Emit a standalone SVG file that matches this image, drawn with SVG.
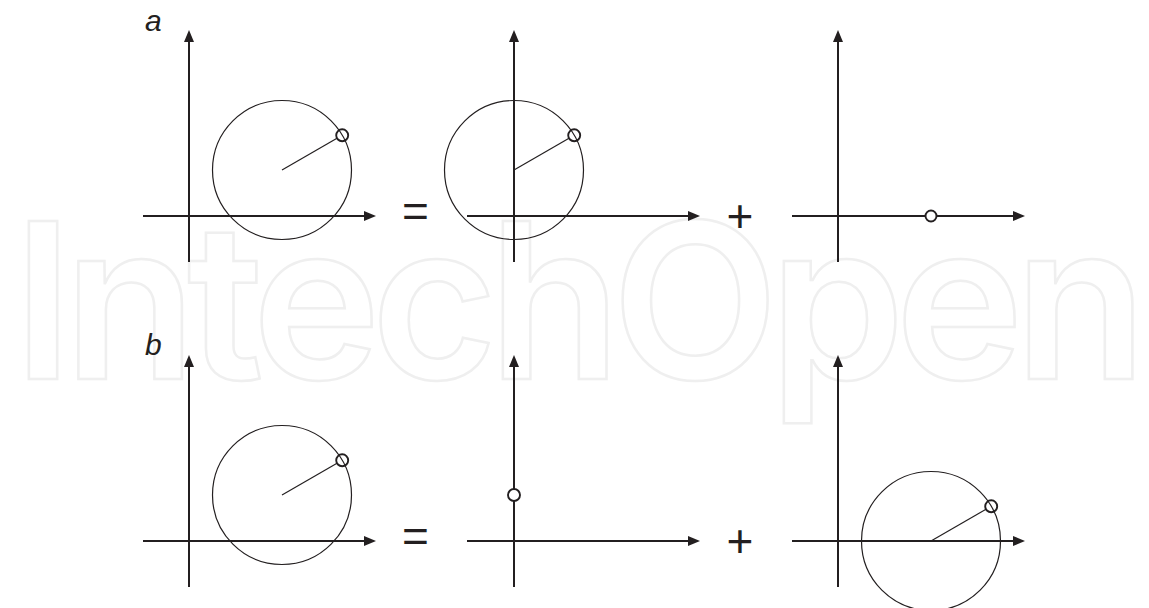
<svg xmlns="http://www.w3.org/2000/svg" width="1149" height="608" viewBox="0 0 1149 608">
  <defs>
    <marker id="arr" markerUnits="userSpaceOnUse" markerWidth="14" markerHeight="12" refX="2" refY="5" orient="auto">
      <path d="M0,0 L12,5 L0,10 z" fill="#231f20"/>
    </marker>
    <style>
      .ax { stroke: #231f20; stroke-width: 2; fill: none; marker-end: url(#arr); }
      .big { stroke: #231f20; stroke-width: 1.2; fill: none; }
      .rad { stroke: #231f20; stroke-width: 1.2; fill: none; }
      .pt { stroke: #231f20; stroke-width: 1.9; fill: #ffffff; }
      .lbl { font-family: "Liberation Sans", Arial, sans-serif; font-style: italic; font-size: 30px; fill: #231f20; }
      .op { font-family: "Liberation Sans", Arial, sans-serif; font-size: 46px; fill: #231f20; text-anchor: middle; }
      .wm { font-family: Inter, "Open Sans", sans-serif; font-weight: 600; font-size: 217px; fill: none; stroke: #efefef; stroke-width: 2.5; }
    </style>
  </defs>
  <rect width="1149" height="608" fill="#ffffff"/>
  <text class="wm" x="13" y="379" textLength="1134" lengthAdjust="spacing">IntechOpen</text>

  <g id="labels">
    <text class="lbl" x="145" y="31">a</text>
    <text class="lbl" x="145" y="355">b</text>
  </g>

  <g id="connectors">
    <line class="ax" x1="189" y1="262" x2="189" y2="40"/>
    <line class="ax" x1="143" y1="216" x2="366" y2="216"/>
    <line class="ax" x1="514" y1="262" x2="514" y2="40"/>
    <line class="ax" x1="467" y1="216" x2="690" y2="216"/>
    <line class="ax" x1="838" y1="262" x2="838" y2="40"/>
    <line class="ax" x1="792" y1="216" x2="1015" y2="216"/>
    <line class="ax" x1="189" y1="587" x2="189" y2="365"/>
    <line class="ax" x1="143" y1="541" x2="366" y2="541"/>
    <line class="ax" x1="514" y1="587" x2="514" y2="365"/>
    <line class="ax" x1="467" y1="541" x2="690" y2="541"/>
    <line class="ax" x1="838" y1="587" x2="838" y2="365"/>
    <line class="ax" x1="792" y1="541" x2="1015" y2="541"/>
  </g>

  <g id="a1">
    <circle class="big" cx="282" cy="170" r="69.5"/>
    <line class="rad" x1="282" y1="170" x2="337" y2="138.3"/>
    <circle class="pt" cx="342.2" cy="135.3" r="6" style="fill:none"/>
  </g>
  <g id="a-eq"><text class="op" x="415.5" y="227">=</text></g>
  <g id="a2">
    <circle class="big" cx="514" cy="170" r="69.5"/>
    <line class="rad" x1="514" y1="170" x2="569" y2="138.3"/>
    <circle class="pt" cx="574.2" cy="135.3" r="6" style="fill:none"/>
  </g>
  <g id="a-plus"><text class="op" x="740" y="232">+</text></g>
  <g id="a3">
    <circle class="pt" cx="931" cy="216" r="5.5"/>
  </g>

  <g id="b1">
    <circle class="big" cx="282" cy="495" r="69.5"/>
    <line class="rad" x1="282" y1="495" x2="337" y2="463.3"/>
    <circle class="pt" cx="342.2" cy="460.3" r="6" style="fill:none"/>
  </g>
  <g id="b-eq"><text class="op" x="415.5" y="552">=</text></g>
  <g id="b2">
    <circle class="pt" cx="514" cy="495" r="6"/>
  </g>
  <g id="b-plus"><text class="op" x="740" y="557">+</text></g>
  <g id="b3">
    <circle class="big" cx="931" cy="541" r="69.5"/>
    <line class="rad" x1="931" y1="541" x2="986" y2="509.3"/>
    <circle class="pt" cx="991.2" cy="506.3" r="6" style="fill:none"/>
  </g>
</svg>
